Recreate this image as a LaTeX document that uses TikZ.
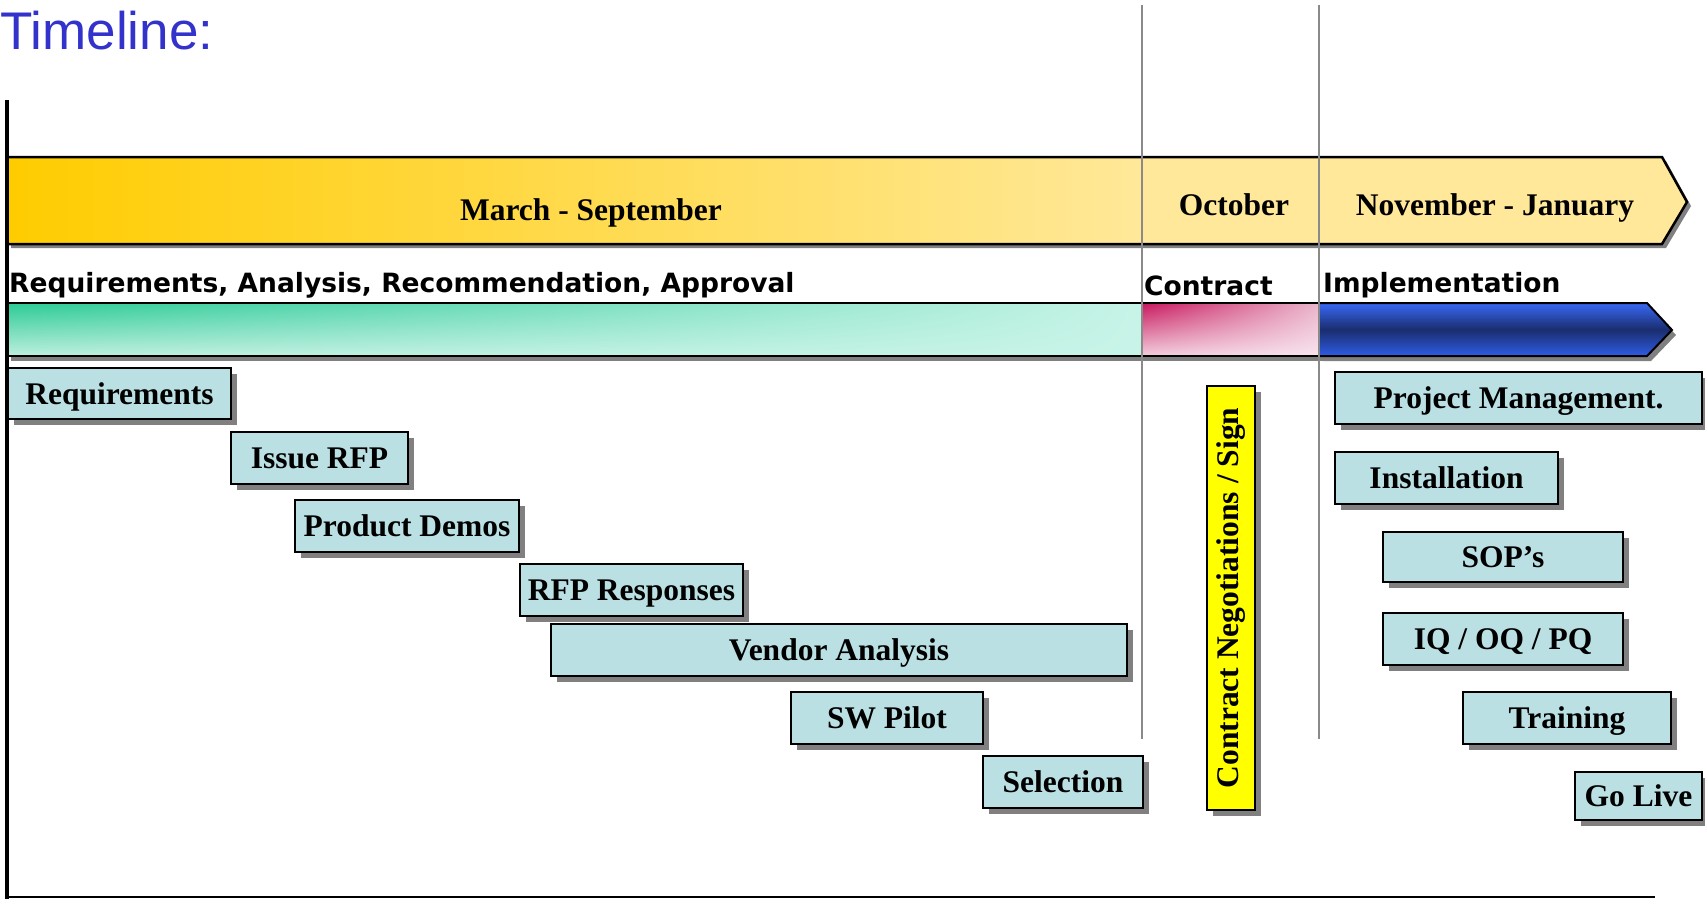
\documentclass[tikz,border=0pt]{standalone}
\usepackage{fontspec}
\setmainfont{Liberation Serif}
\newfontfamily\headsans{Liberation Sans}
\newfontfamily\rowsans{DejaVu Sans}
\usepackage{graphicx}
\usetikzlibrary{shadows,shadings}
\definecolor{titleblue}{HTML}{3333CC}
\definecolor{taskfill}{HTML}{BAE0E3}
\definecolor{shadowgray}{HTML}{808080}
\definecolor{splitgray}{HTML}{8A8A8A}
\definecolor{baryellow}{HTML}{FFCC00}
\definecolor{barpale}{HTML}{FFE899}
\definecolor{greendark}{HTML}{2CCB96}
\definecolor{greenlow}{HTML}{BEEFDF}
\definecolor{greenpale}{HTML}{C8F4E8}
\definecolor{pinkdark}{HTML}{C8185E}
\definecolor{pinkmid}{HTML}{EAB5CB}
\definecolor{pinklow}{HTML}{F2CFDD}
\definecolor{pinkpale}{HTML}{F8E3EE}
\definecolor{bluetop}{HTML}{3868F5}
\definecolor{bluemid}{HTML}{1A2D6E}
\definecolor{bluebot}{HTML}{2E5CE6}
\definecolor{signyellow}{HTML}{FFFF00}

\begin{document}
\begin{tikzpicture}[x=1pt, y=-1pt,
		task/.style={draw=black, line width=2.5pt, fill=taskfill, anchor=north west, outer sep=0pt, inner sep=0pt,
			text height=21.5pt, text depth=0pt, font=\fontsize{31.5}{36}\selectfont\bfseries,
			drop shadow={shadow xshift=6pt, shadow yshift=-6pt, opacity=1, fill=shadowgray}},
		month/.style={anchor=base, inner sep=0pt, font=\fontsize{31.5}{36}\selectfont\bfseries},
		phase/.style={anchor=base west, inner sep=0pt, font=\rowsans\fontsize{26.5}{30}\selectfont\bfseries}]
		\useasboundingbox (0,0) rectangle (1705,899);
		\fill[shadowgray] (11,161)--(1666,161)--(1691,206)--(1666,248)--(11,248)--cycle;
		\fill[barpale] (7,157)--(1662,157)--(1687,202)--(1662,244)--(7,244)--cycle;
		\shade[left color=baryellow, right color=barpale] (7,157) rectangle (1142,244);
		\draw[line width=2.5pt, line join=miter] (7,157)--(1662,157)--(1687,202)--(1662,244)--(7,244)--cycle;
		\fill[shadowgray] (11,308) rectangle (1323,361);
		\fill[shadowgray] (1323,308)--(1651,308)--(1676,335)--(1651,361)--(1323,361)--cycle;
		\shade[upper left=greendark, upper right=greenpale, lower left=greenlow, lower right=greenpale] (7,303) rectangle (1142,356);
		\shade[upper left=pinkdark, upper right=pinkmid, lower left=pinklow, lower right=pinkpale] (1142,303) rectangle (1319,356);
		\draw[line width=2pt] (7,303) rectangle (1319,356);
		\shade[top color=bluetop, bottom color=bluebot, middle color=bluemid] (1319,303)--(1647,303)--(1672,330)--(1647,356)--(1319,356)--cycle;
		\draw[line width=2pt, line join=miter] (1319,303)--(1647,303)--(1672,330)--(1647,356)--(1319,356);
		\draw[splitgray, line width=2pt] (1142,5)--(1142,739);
		\draw[splitgray, line width=2pt] (1319,5)--(1319,739);
		\draw[line width=3.5pt] (7,100)--(7,899);
		\draw[line width=2pt] (5,897)--(1655,897);
		\node[anchor=base west, inner sep=0pt, text=titleblue, font=\headsans\fontsize{53}{60}\selectfont] (title) at (0,50) {Timeline:};
		\node[month] (marsep) at (591,220) {March - September};
		\node[month] (oct) at (1234,215) {October};
		\node[month] (novjan) at (1495,215) {November - January};
		\node[phase] (reqphase) at (9,292) {Requirements, Analysis, Recommendation, Approval};
		\node[phase] (conphase) at (1144,295) {Contract};
		\node[phase] (impphase) at (1323,292) {Implementation};
		\node[task, minimum width=223pt, minimum height=51pt] (req) at (8,368) {Requirements};
		\node[task, minimum width=177pt, minimum height=52pt] (rfp) at (231,432) {Issue RFP};
		\node[task, minimum width=224pt, minimum height=52pt] (demo) at (295,500) {Product Demos};
		\node[task, minimum width=223pt, minimum height=52pt] (resp) at (520,564) {RFP Responses};
		\node[task, minimum width=576pt, minimum height=52pt] (vend) at (551,624) {Vendor Analysis};
		\node[task, minimum width=192pt, minimum height=52pt] (pilot) at (791,692) {SW Pilot};
		\node[task, minimum width=160pt, minimum height=52pt] (sel) at (983,756) {Selection};
		\node[task, fill=signyellow, minimum width=48pt, minimum height=424pt, text height=, text depth=] (neg) at (1207,386) {\rotatebox{90}{Contract Negotiations / Sign}};
		\node[task, minimum width=367pt, minimum height=52pt] (pm) at (1335,372) {Project Management.};
		\node[task, minimum width=223pt, minimum height=52pt] (inst) at (1335,452) {Installation};
		\node[task, minimum width=240pt, minimum height=50pt] (sop) at (1383,532) {SOP’s};
		\node[task, minimum width=240pt, minimum height=52pt] (iq) at (1383,613) {IQ / OQ / PQ};
		\node[task, minimum width=208pt, minimum height=52pt] (train) at (1463,692) {Training};
		\node[task, minimum width=127pt, minimum height=48pt] (live) at (1575,772) {Go Live};
	\end{tikzpicture}
\end{document}
